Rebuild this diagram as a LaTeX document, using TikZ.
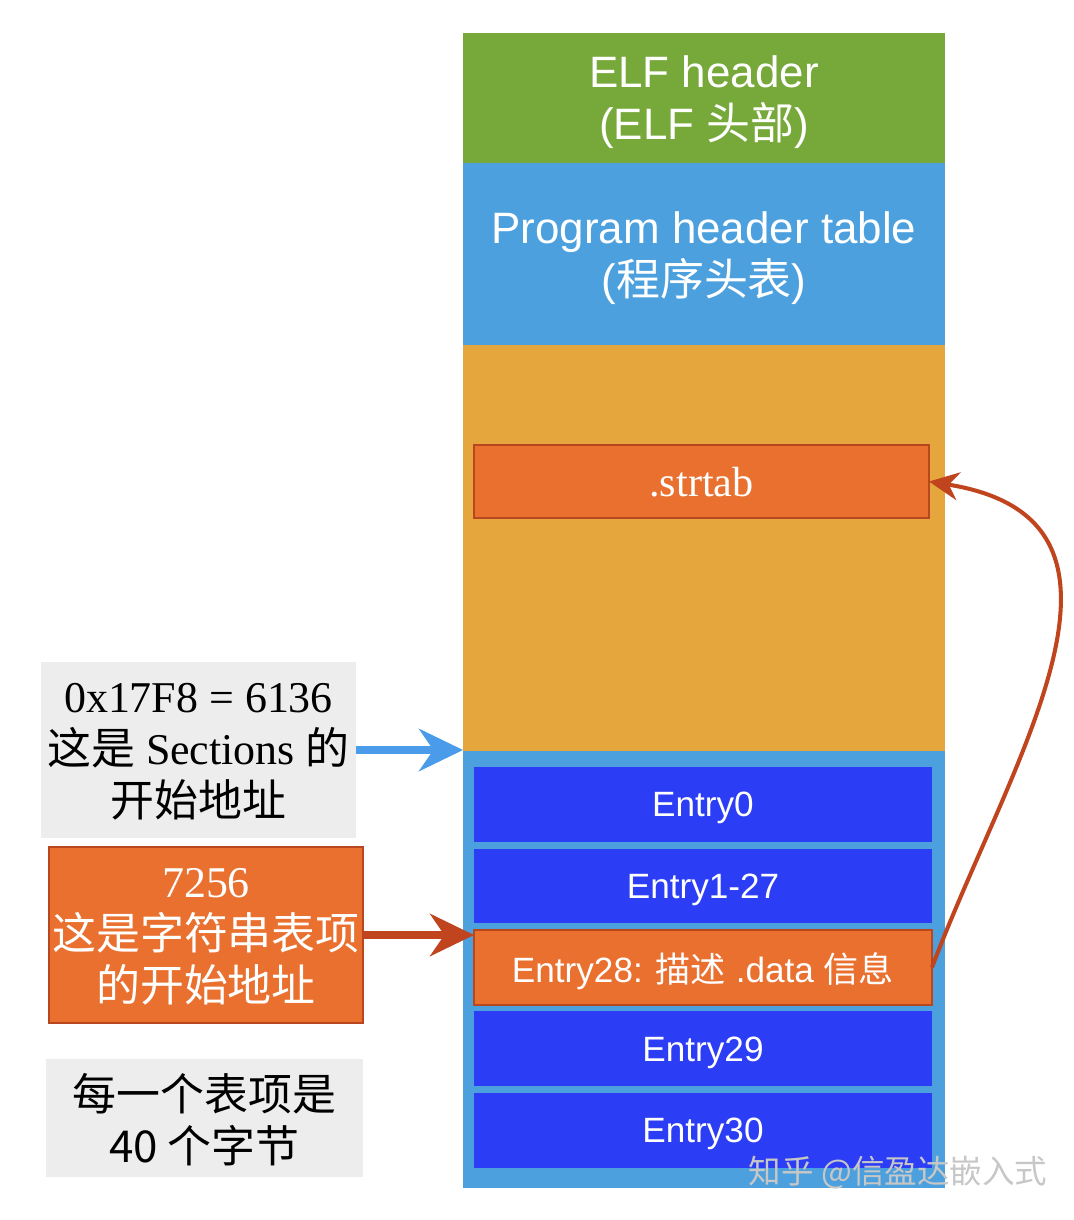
\documentclass[tikz,border=0pt]{standalone}
\usepackage{fontspec}
\setmainfont{Liberation Serif}
\newfontfamily\hv{Liberation Sans}
\newfontfamily\cjk{Noto Sans CJK SC}
\usetikzlibrary{positioning,arrows.meta}

\definecolor{elfgreen}{HTML}{77A83A}
\definecolor{tblblue}{HTML}{4BA0DD}
\definecolor{secgold}{HTML}{E5A73D}
\definecolor{strorange}{HTML}{E9702F}
\definecolor{strborder}{HTML}{B8461F}
\definecolor{entblue}{HTML}{2C3EF5}
\definecolor{notegray}{HTML}{EDEDED}
\definecolor{arrblue}{HTML}{4A9BEA}
\definecolor{arrred}{HTML}{C0441E}

\tikzstyle{block} = [rectangle, minimum width=9.64cm, inner sep=0pt, outer sep=0pt, text depth=0pt, text=white, align=center, font=\hv\fontsize{25}{29.5}\selectfont]
\tikzstyle{entry} = [rectangle, minimum width=9.16cm, minimum height=1.5cm, inner sep=0pt, outer sep=0pt, text depth=0pt, fill=entblue, text=white, font=\hv\fontsize{20}{24}\selectfont]
\tikzstyle{strbox} = [entry, fill=strorange, draw=strborder, line width=1.2pt]
\tikzstyle{note} = [rectangle, minimum width=6.3cm, minimum height=3.52cm, inner sep=0pt, outer sep=0pt, text depth=0pt, align=center, fill=notegray, font=\fontsize{25}{29.5}\selectfont]
\tikzstyle{arrow} = [-{Stealth[length=25pt,width=24pt]}, line width=4.5pt]
\tikzstyle{linkarrow} = [-{Stealth[length=17pt,width=16pt]}, line width=2.3pt, draw=arrred]

\begin{document}
\begin{tikzpicture}[x=0.02cm, y=-0.02cm]
	\useasboundingbox (0,0) rectangle (1074,1220);
	\node (elfhdr) [block, minimum height=2.6cm, fill=elfgreen] at (704,98) {ELF header\\(ELF {\cjk 头部})};
	\node (phdr) [block, minimum height=3.64cm, fill=tblblue, below=0cm of elfhdr] {Program header table\\({\cjk 程序头表})};
	\node (sects) [block, minimum height=8.12cm, fill=secgold, below=0cm of phdr] {};
	\node (shtab) [block, minimum height=8.74cm, fill=tblblue, below=0cm of sects] {};
	
	\node (strtab) [strbox, minimum width=9.1cm, minimum height=1.46cm, font=\fontsize{24}{28}\selectfont] at (701.5,481.5) {.strtab};
	
	\node (e0) [entry] at (703,804.5) {Entry0};
	\node (e1) [entry, below=0.13cm of e0] {Entry1-27};
	\node (e28) [strbox, below=0.13cm of e1] {Entry28: {\cjk 描述} .data {\cjk 信息}};
	\node (e29) [entry, below=0.13cm of e28] {Entry29};
	\node (e30) [entry, below=0.13cm of e29] {Entry30};
	
	\node (secaddr) [note] at (198.5,750) {0x17F8 = 6136\\{\cjk 这是} Sections {\cjk 的}\\{\cjk 开始地址}};
	\node (straddr) [note, minimum width=6.28cm, fill=strorange, draw=strborder, line width=1.2pt, text=white] at (206,935) {7256\\{\cjk 这是字符串表项}\\{\cjk 的开始地址}};
	\node (entsize) [note, minimum width=6.34cm, minimum height=2.36cm, font=\cjk\fontsize{25}{29.5}\selectfont] at (204.5,1118) {每一个表项是\\40 个字节};
	
	\node (mark) [font=\cjk\fontsize{18.5}{22}\selectfont, text=white!78!black] at (898,1173) {知乎 @信盈达嵌入式};
	
	\draw [arrow, arrblue] (secaddr.east) -- (secaddr.east -| shtab.west);
	\draw [arrow, arrred] (straddr.east) -- (straddr.east -| e28.west);
	\draw [linkarrow] (e28.east) .. controls (1010,760) and (1170,520) .. (strtab.east);
\end{tikzpicture}
\end{document}
